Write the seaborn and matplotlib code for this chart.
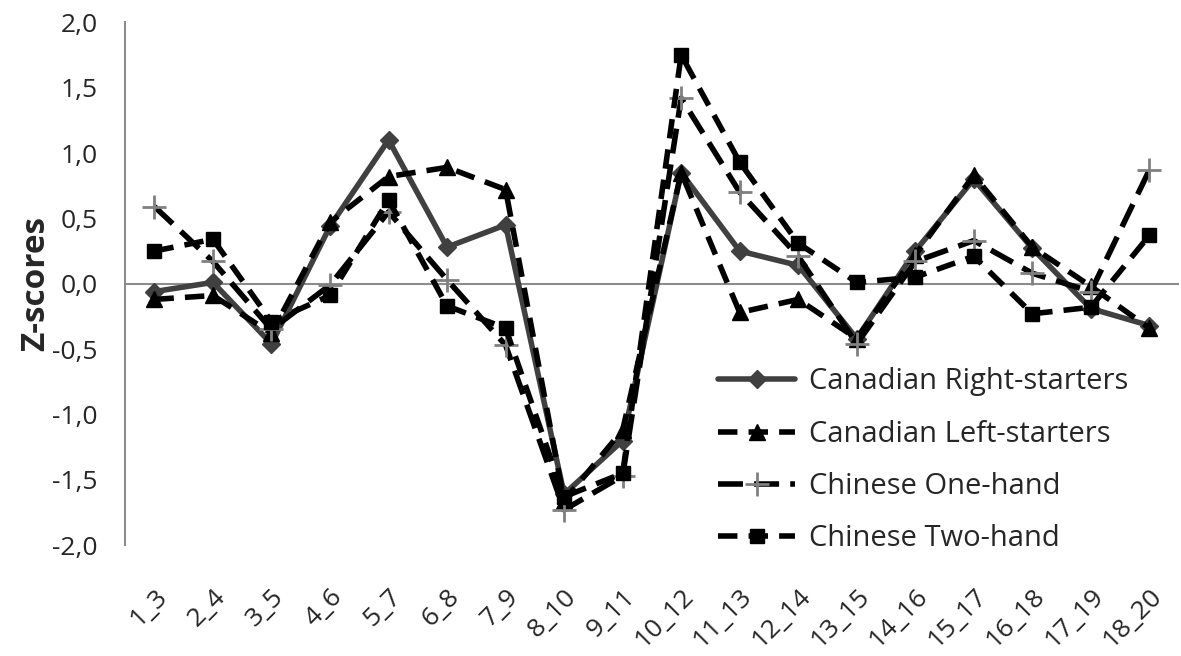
import matplotlib
matplotlib.use("Agg")
import matplotlib.pyplot as plt
import seaborn as sns
import pandas as pd

pairs = ["1_3", "2_4", "3_5", "4_6", "5_7", "6_8", "7_9", "8_10", "9_11",
         "10_12", "11_13", "12_14", "13_15", "14_16", "15_17", "16_18",
         "17_19", "18_20"]

can_right = [-0.06, 0.01, -0.46, 0.44, 1.10, 0.28, 0.45, -1.61, -1.20,
             0.85, 0.25, 0.14, -0.42, 0.25, 0.80, 0.27, -0.19, -0.32]
can_left = [-0.12, -0.09, -0.38, 0.47, 0.82, 0.89, 0.72, -1.66, -1.12,
            0.85, -0.22, -0.12, -0.42, 0.22, 0.83, 0.28, -0.02, -0.34]
chi_one = [0.59, 0.17, -0.35, -0.01, 0.55, 0.03, -0.47, -1.73, -1.47,
           1.42, 0.70, 0.21, -0.46, 0.17, 0.33, 0.08, -0.06, 0.87]
chi_two = [0.25, 0.34, -0.29, -0.09, 0.64, -0.17, -0.34, -1.63, -1.45,
           1.75, 0.93, 0.31, 0.01, 0.05, 0.21, -0.23, -0.18, 0.37]

series = {
    "Canadian Right-starters": can_right,
    "Canadian Left-starters": can_left,
    "Chinese One-hand": chi_one,
    "Chinese Two-hand": chi_two,
}

rows = []
for name, vals in series.items():
    for i, v in enumerate(vals):
        rows.append({"pos": i, "pair": pairs[i], "z": v, "group": name})
df = pd.DataFrame(rows)

sns.set_style("white")
plt.rcParams["font.family"] = ["Open Sans", "DejaVu Sans"]

styles = {
    "Canadian Right-starters": dict(color="#404040", ls="-", marker="D", ms=9,
                                    mfc="#404040", mec="#404040"),
    "Canadian Left-starters": dict(color="black", ls=(0, (3.5, 2)), marker="^", ms=11,
                                   mfc="black", mec="black"),
    "Chinese One-hand": dict(color="black", ls=(0, (4.5, 2)), marker="+", ms=17,
                             mfc="#808080", mec="#808080", mew=2),
    "Chinese Two-hand": dict(color="black", ls=(0, (3.5, 2)), marker="s", ms=10,
                             mfc="black", mec="black"),
}

fig = plt.figure(figsize=(11.81, 6.56), dpi=100)
ax = fig.add_axes([0.106, 0.169, 0.892, 0.797])

for name in series:
    st = styles[name]
    sub = df[df["group"] == name]
    sns.lineplot(data=sub, x="pos", y="z", ax=ax, label=name, lw=4,
                 color=st["color"], marker=st["marker"],
                 markersize=st["ms"], markerfacecolor=st["mfc"],
                 markeredgecolor=st["mec"], markeredgewidth=st.get("mew", 1))
    ax.lines[-1].set_linestyle(st["ls"])

ax.axhline(0, color="#8c8c8c", lw=1.5, zorder=0)

ax.set_xlim(-0.5, len(pairs) - 0.5)
ax.set_ylim(-2.0, 2.0)
yt = [-2.0, -1.5, -1.0, -0.5, 0.0, 0.5, 1.0, 1.5, 2.0]
ax.set_yticks(yt)
ax.set_yticklabels([f"{v:.1f}".replace(".", ",") for v in yt], fontsize=19)
ax.set_xticks(range(len(pairs)))
ax.set_xticklabels(pairs, fontsize=19, rotation=45, ha="right",
                   rotation_mode="anchor")
ax.tick_params(axis="y", length=0, pad=20)
ax.tick_params(axis="x", length=0, pad=28)

ax.set_xlabel("")
ax.set_ylabel("Z-scores", fontsize=24, fontweight="bold", labelpad=0)

for side in ["top", "right", "bottom"]:
    ax.spines[side].set_visible(False)
ax.spines["left"].set_color("#8c8c8c")
ax.spines["left"].set_linewidth(1.5)

leg = ax.legend(loc="upper left", bbox_to_anchor=(0.538, 0.39), frameon=False,
                fontsize=21, handlelength=2.65, labelspacing=0.8,
                handletextpad=0.45)

fig.savefig("out.png", dpi=100)
